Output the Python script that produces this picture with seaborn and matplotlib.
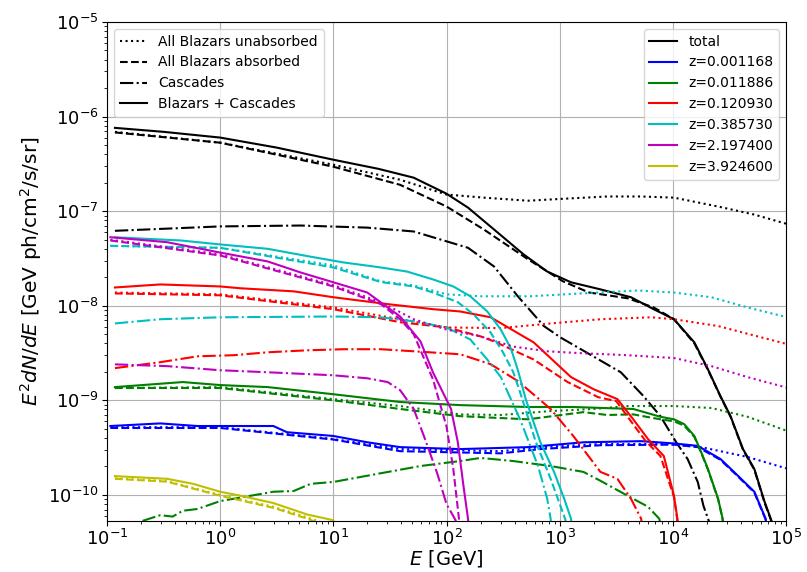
import numpy as np
import matplotlib
matplotlib.use("Agg")
import matplotlib.pyplot as plt
from matplotlib.lines import Line2D
from matplotlib.ticker import LogLocator, NullFormatter
import seaborn as sns

# log10(E/GeV) grids and E^2 dN/dE values, one pair per curve
# all blazars (black)
lgE_all_tot = [-0.93, -0.5, 0, 0.5, 1, 1.4, 1.71, 2.0, 2.19, 2.42, 2.68, 2.89, 3.10, 3.36, 3.63,
               3.83, 4.01, 4.19, 4.31, 4.42, 4.51, 4.62, 4.72, 4.81, 4.87, 4.92]
all_tot = [7.6e-7, 6.9e-7, 6.0e-7, 4.7e-7, 3.5e-7, 2.8e-7, 2.26e-7, 1.53e-7, 1.09e-7, 6.4e-8, 3.5e-8,
           2.3e-8, 1.77e-8, 1.49e-8, 1.23e-8, 9.2e-9, 7.2e-9, 4.1e-9, 2.13e-9, 1.11e-9, 6.8e-10,
           3.05e-10, 1.88e-10, 8.5e-11, 5.4e-11, 2e-11]
lgE_all_unabs = [-0.93, 0, 1, 1.59, 2.0, 2.33, 2.72, 3.07, 3.42, 3.72, 4.01, 4.40, 4.72, 5.03]
all_unabs = [6.9e-7, 5.3e-7, 3.1e-7, 2.15e-7, 1.5e-7, 1.39e-7, 1.29e-7, 1.36e-7, 1.43e-7, 1.43e-7,
             1.39e-7, 1.12e-7, 9.2e-8, 7.2e-8]
lgE_all_abs = [-0.93, 0, 1, 1.59, 2.0, 2.33, 2.72, 3.03, 3.26, 3.60, 3.83, 4.01, 4.19, 4.31, 4.42,
               4.51, 4.62, 4.72, 4.81, 4.87, 4.92]
all_abs = [6.8e-7, 5.3e-7, 2.95e-7, 1.9e-7, 1.12e-7, 6.4e-8, 3.1e-8, 1.81e-8, 1.38e-8, 1.2e-8,
           9.6e-9, 7.2e-9, 4.0e-9, 2.1e-9, 1.1e-9, 6.7e-10, 3.0e-10, 1.85e-10, 8.3e-11, 5.3e-11, 2e-11]
lgE_all_casc = [-0.93, 0, 0.71, 1.30, 1.71, 2.0, 2.19, 2.42, 2.63, 2.86, 3.01, 3.30, 3.54, 3.74,
                3.89, 4.03, 4.13, 4.22, 4.27, 4.32, 4.36]
all_casc = [6.2e-8, 6.9e-8, 7.05e-8, 6.7e-8, 6.1e-8, 4.8e-8, 4.1e-8, 2.6e-8, 1.26e-8, 6.1e-9, 4.6e-9,
            2.9e-9, 1.98e-9, 1.11e-9, 6.8e-10, 3.6e-10, 2.4e-10, 1.37e-10, 7.7e-11, 5.2e-11, 2e-11]

# z = 0.001168 (blue)
lgE_b_tot = [-0.97, -0.53, -0.20, 0.18, 0.47, 0.59, 1, 1.30, 1.59, 2.12, 2.72, 3.21, 3.72, 4.01,
             4.22, 4.42, 4.54, 4.72, 4.82, 4.86]
b_tot = [5.35e-10, 5.7e-10, 5.35e-10, 5.35e-10, 5.35e-10, 4.6e-10, 4.2e-10, 3.6e-10, 3.2e-10,
         3.05e-10, 3.2e-10, 3.6e-10, 3.7e-10, 3.5e-10, 3.3e-10, 2.4e-10, 1.75e-10, 1.08e-10,
         5.6e-11, 2e-11]
lgE_b_unabs = [-0.97, 0, 1, 1.59, 2.48, 2.83, 3.36, 3.96, 4.25, 4.66, 5.02]
b_unabs = [5.2e-10, 5.2e-10, 3.9e-10, 3.05e-10, 2.9e-10, 3.2e-10, 3.45e-10, 3.45e-10, 3.2e-10,
           2.52e-10, 1.88e-10]
lgE_b_abs = [-0.97, 0, 1, 1.59, 2.48, 2.83, 3.36, 4.01, 4.22, 4.42, 4.54, 4.72, 4.82, 4.86]
b_abs = [5.1e-10, 5.1e-10, 3.85e-10, 2.9e-10, 2.75e-10, 3.05e-10, 3.35e-10, 3.4e-10, 3.2e-10,
         2.35e-10, 1.72e-10, 1.06e-10, 5.5e-11, 2e-11]

# z = 0.011886 (green)
lgE_g_tot = [-0.93, -0.33, 0, 0.42, 1, 1.59, 2.12, 2.72, 3.12, 3.65, 3.89, 4.01, 4.10, 4.19,
             4.25, 4.31, 4.40, 4.44, 4.47]
g_tot = [1.38e-9, 1.56e-9, 1.45e-9, 1.38e-9, 1.16e-9, 9.6e-10, 8.9e-10, 8.5e-10, 8.5e-10, 8.1e-10,
         6.7e-10, 6.3e-10, 5.6e-10, 4.2e-10, 2.84e-10, 1.88e-10, 9.1e-11, 5.6e-11, 2e-11]
lgE_g_unabs = [-0.93, 0, 1, 1.59, 2.12, 2.48, 2.92, 3.30, 3.60, 4.01, 4.34, 4.66, 5.02]
g_unabs = [1.35e-9, 1.38e-9, 1.03e-9, 8.7e-10, 7.1e-10, 7.0e-10, 7.7e-10, 8.1e-10, 8.7e-10,
           8.7e-10, 8.3e-10, 6.7e-10, 4.7e-10]
lgE_g_abs = [-0.93, 0, 1, 1.59, 2.12, 2.72, 3.21, 3.42, 3.65, 3.89, 4.01, 4.10, 4.19, 4.25,
             4.31, 4.40, 4.44, 4.47]
g_abs = [1.35e-9, 1.35e-9, 1.0e-9, 8.1e-10, 6.8e-10, 6.3e-10, 7.5e-10, 7.0e-10, 7.1e-10, 6.3e-10,
         6.0e-10, 5.4e-10, 4.1e-10, 2.8e-10, 1.85e-10, 9.0e-11, 5.5e-11, 2e-11]
lgE_g_casc = [-0.80, -0.71, -0.53, -0.42, -0.33, -0.20, 0, 0.47, 0.65, 0.80, 1, 1.39, 1.77, 2.12,
              2.30, 2.59, 2.92, 3.21, 3.36, 3.60, 3.78, 3.88, 3.93]
g_casc = [3.5e-11, 5.2e-11, 6.1e-11, 5.9e-11, 6.8e-11, 7.1e-11, 8.6e-11, 1.08e-10, 1.1e-10,
          1.31e-10, 1.37e-10, 1.67e-10, 2.02e-10, 2.28e-10, 2.46e-10, 2.28e-10, 2.02e-10,
          1.75e-10, 1.41e-10, 9.8e-11, 7.5e-11, 5.6e-11, 3e-11]

# z = 0.120930 (red)
lgE_r_tot = [-0.93, -0.53, 0, 0.18, 0.65, 1, 1.48, 1.88, 2.12, 2.39, 2.77, 3.10, 3.30, 3.51, 3.65,
             3.78, 3.92, 4.01, 4.04, 4.06]
r_tot = [1.56e-8, 1.68e-8, 1.6e-8, 1.53e-8, 1.42e-8, 1.23e-8, 1.04e-8, 9.2e-9, 8.7e-9, 7.55e-9,
         4.1e-9, 1.76e-9, 1.31e-9, 1.03e-9, 6.3e-10, 3.9e-10, 2.58e-10, 9.8e-11, 5.6e-11, 2e-11]
lgE_r_unabs = [-0.93, 0, 1, 1.59, 2.0, 2.48, 2.92, 3.36, 3.81, 4.01, 4.40, 5.02]
r_unabs = [1.38e-8, 1.32e-8, 9.6e-9, 7.2e-9, 5.9e-9, 5.8e-9, 6.5e-9, 7.2e-9, 7.55e-9, 7.2e-9,
           6.1e-9, 3.9e-9]
lgE_r_abs = [-0.93, 0, 1, 1.59, 2.0, 2.30, 2.42, 2.77, 3.07, 3.34, 3.50, 3.63, 3.76, 3.89, 4.01,
             4.04, 4.06]
r_abs = [1.35e-8, 1.29e-8, 9.2e-9, 6.7e-9, 5.9e-9, 4.75e-9, 4.2e-9, 2.7e-9, 1.56e-9, 1.08e-9,
         9.8e-10, 6.0e-10, 3.7e-10, 2.58e-10, 9.5e-11, 5.4e-11, 2e-11]
lgE_r_casc = [-0.93, -0.53, -0.20, 0.12, 0.42, 0.77, 1.09, 1.42, 1.71, 2.12, 2.39, 2.63, 2.92,
              3.12, 3.36, 3.51, 3.63, 3.72, 3.76]
r_casc = [2.19e-9, 2.53e-9, 2.92e-9, 3.0e-9, 3.22e-9, 3.38e-9, 3.47e-9, 3.47e-9, 3.3e-9, 3.07e-9,
          2.41e-9, 1.6e-9, 8.1e-10, 4.2e-10, 1.75e-10, 1.48e-10, 9.1e-11, 5.6e-11, 2e-11]

# z = 0.385730 (cyan)
lgE_c_tot = [-0.93, -0.35, 0, 0.42, 0.8, 1.09, 1.42, 1.65, 1.88, 2.06, 2.21, 2.36, 2.48, 2.57,
             2.63, 2.70, 2.83, 2.95, 3.04, 3.10, 3.14]
c_tot = [5.3e-8, 4.9e-8, 4.45e-8, 4.0e-8, 3.3e-8, 2.87e-8, 2.54e-8, 2.3e-8, 1.9e-8, 1.6e-8,
         1.26e-8, 8.7e-9, 5.6e-9, 3.5e-9, 2.1e-9, 1.03e-9, 3.6e-10, 1.75e-10, 9.1e-11, 5.6e-11, 2e-11]
lgE_c_unabs = [-0.97, 0, 1, 1.42, 1.71, 2.0, 2.30, 2.74, 3.19, 3.69, 4.01, 4.34, 4.66, 5.02]
c_unabs = [4.3e-8, 4.1e-8, 2.67e-8, 1.81e-8, 1.64e-8, 1.32e-8, 1.26e-8, 1.26e-8, 1.35e-8, 1.45e-8,
           1.38e-8, 1.23e-8, 9.6e-9, 7.5e-9]
lgE_c_abs = [-0.97, 0, 1, 1.42, 1.71, 1.88, 2.10, 2.24, 2.39, 2.50, 2.59, 2.65, 2.79, 2.92, 3.05, 3.09]
c_abs = [4.3e-8, 4.1e-8, 2.54e-8, 1.78e-8, 1.6e-8, 1.38e-8, 1.09e-8, 8.1e-9, 5.2e-9, 3.2e-9,
         1.98e-9, 1.22e-9, 3.6e-10, 1.48e-10, 5.5e-11, 2e-11]
lgE_c_casc = [-0.93, -0.53, 0, 1, 1.42, 1.71, 2.0, 2.21, 2.36, 2.48, 2.65, 2.81, 2.89, 2.92, 2.95]
c_casc = [6.5e-9, 7.2e-9, 7.55e-9, 7.7e-9, 7.55e-9, 6.85e-9, 5.9e-9, 4.4e-9, 2.7e-9, 1.76e-9,
          6.3e-10, 2.0e-10, 9.1e-11, 5.6e-11, 2e-11]

# z = 2.197400 (magenta)
lgE_m_tot = [-0.97, -0.47, 0, 0.42, 0.71, 1, 1.30, 1.59, 1.77, 1.88, 2.04, 2.10, 2.15, 2.19, 2.22]
m_tot = [5.3e-8, 4.7e-8, 3.65e-8, 2.94e-8, 2.25e-8, 1.77e-8, 1.38e-8, 7.7e-9, 4.2e-9, 1.98e-9,
         8.1e-10, 3.6e-10, 1.24e-10, 5.6e-11, 2e-11]
lgE_m_unabs = [-0.97, 0, 1, 1.42, 1.71, 2.0, 2.30, 2.59, 2.89, 3.19, 3.60, 4.01, 4.34, 4.66, 5.02]
m_unabs = [5.0e-8, 3.5e-8, 1.65e-8, 1.09e-8, 7.2e-9, 5.6e-9, 4.75e-9, 3.7e-9, 3.3e-9, 3.15e-9,
           3.0e-9, 2.8e-9, 2.3e-9, 1.76e-9, 1.35e-9]
lgE_m_abs = [-0.97, 0, 1, 1.42, 1.59, 1.71, 1.88, 2.0, 2.06, 2.11, 2.14]
m_abs = [4.9e-8, 3.4e-8, 1.6e-8, 1.04e-8, 7.2e-9, 5.0e-9, 1.67e-9, 5.3e-10, 1.88e-10, 5.6e-11, 2e-11]
lgE_m_casc = [-0.93, -0.47, 0, 0.42, 1, 1.30, 1.48, 1.59, 1.71, 1.81, 1.92, 2.0, 2.08, 2.12]
m_casc = [2.4e-9, 2.3e-9, 2.08e-9, 1.98e-9, 1.84e-9, 1.71e-9, 1.56e-9, 1.28e-9, 8.1e-10, 3.9e-10,
          1.66e-10, 8.0e-11, 5.4e-11, 2e-11]

# z = 3.924600 (yellow)
lgE_y_tot = [-0.93, -0.47, -0.24, 0, 0.18, 0.47, 0.77, 1.0, 1.1]
y_tot = [1.58e-10, 1.48e-10, 1.31e-10, 1.08e-10, 9.8e-11, 8.2e-11, 6.2e-11, 5.4e-11, 3e-11]
lgE_y_unabs = [-0.93, -0.47, 0, 0.47, 0.77, 0.88, 1.0]
y_unabs = [1.5e-10, 1.4e-10, 1.0e-10, 7.5e-11, 5.8e-11, 5.2e-11, 3e-11]
lgE_y_abs = [-0.93, -0.47, 0, 0.47, 0.77, 0.88, 1.0]
y_abs = [1.48e-10, 1.38e-10, 0.98e-10, 7.3e-11, 5.6e-11, 5.0e-11, 3e-11]

z_labels = ["z=0.001168", "z=0.011886", "z=0.120930", "z=0.385730", "z=2.197400", "z=3.924600"]
z_colors = ["b", "g", "r", "c", "m", "y"]
comp_labels = ["All Blazars unabsorbed", "All Blazars absorbed", "Cascades", "Blazars + Cascades"]
comp_styles = [":", "--", "-.", "-"]
x_ticks = [1e-1, 1e0, 1e1, 1e2, 1e3, 1e4, 1e5]
y_ticks = [1e-10, 1e-9, 1e-8, 1e-7, 1e-6, 1e-5]

curves = [
    (lgE_all_unabs, all_unabs, "k", ":"), (lgE_all_abs, all_abs, "k", "--"),
    (lgE_all_casc, all_casc, "k", "-."), (lgE_all_tot, all_tot, "k", "-"),
    (lgE_b_unabs, b_unabs, "b", ":"), (lgE_b_abs, b_abs, "b", "--"), (lgE_b_tot, b_tot, "b", "-"),
    (lgE_g_unabs, g_unabs, "g", ":"), (lgE_g_abs, g_abs, "g", "--"),
    (lgE_g_casc, g_casc, "g", "-."), (lgE_g_tot, g_tot, "g", "-"),
    (lgE_r_unabs, r_unabs, "r", ":"), (lgE_r_abs, r_abs, "r", "--"),
    (lgE_r_casc, r_casc, "r", "-."), (lgE_r_tot, r_tot, "r", "-"),
    (lgE_c_unabs, c_unabs, "c", ":"), (lgE_c_abs, c_abs, "c", "--"),
    (lgE_c_casc, c_casc, "c", "-."), (lgE_c_tot, c_tot, "c", "-"),
    (lgE_m_unabs, m_unabs, "m", ":"), (lgE_m_abs, m_abs, "m", "--"),
    (lgE_m_casc, m_casc, "m", "-."), (lgE_m_tot, m_tot, "m", "-"),
    (lgE_y_unabs, y_unabs, "y", ":"), (lgE_y_abs, y_abs, "y", "--"), (lgE_y_tot, y_tot, "y", "-"),
]

fig = plt.figure(figsize=(8.07, 5.72), dpi=100)
ax = fig.add_axes([0.1326, 0.0892, 0.8414, 0.8723])

for lgE, vals, col, ls in curves:
    sns.lineplot(x=np.power(10.0, lgE), y=vals, color=col, linestyle=ls, lw=1.5,
                 ax=ax, legend=False)

ax.set_xscale("log")
ax.set_yscale("log")
ax.set_xlim(1e-1, 1e5)
ax.set_ylim(5.3e-11, 1e-5)
# only in-range decade ticks get labels
ax.set_xticks(x_ticks)
ax.set_yticks(y_ticks)
ax.xaxis.set_minor_locator(LogLocator(base=10, subs=np.arange(2, 10), numticks=20))
ax.yaxis.set_minor_locator(LogLocator(base=10, subs=np.arange(2, 10), numticks=20))
ax.xaxis.set_minor_formatter(NullFormatter())
ax.yaxis.set_minor_formatter(NullFormatter())
ax.grid(True, which="major", color="#b0b0b0", lw=0.8)
ax.tick_params(labelsize=13, pad=2.5)
ax.set_xlabel(r"$E$ [GeV]", fontsize=14, labelpad=-1)
ax.set_ylabel(r"$E^2dN/dE$ [GeV ph/cm$^2$/s/sr]", fontsize=14.5, labelpad=3)

h1 = [Line2D([], [], color="k", ls=s, lw=1.5) for s in comp_styles]
leg1 = ax.legend(h1, comp_labels, loc="upper left", fontsize=10)
ax.add_artist(leg1)
h2 = [Line2D([], [], color="k", lw=1.5)] + [Line2D([], [], color=c, lw=1.5) for c in z_colors]
ax.legend(h2, ["total"] + z_labels, loc="upper right", fontsize=10)

fig.savefig("out.png", dpi=100)
